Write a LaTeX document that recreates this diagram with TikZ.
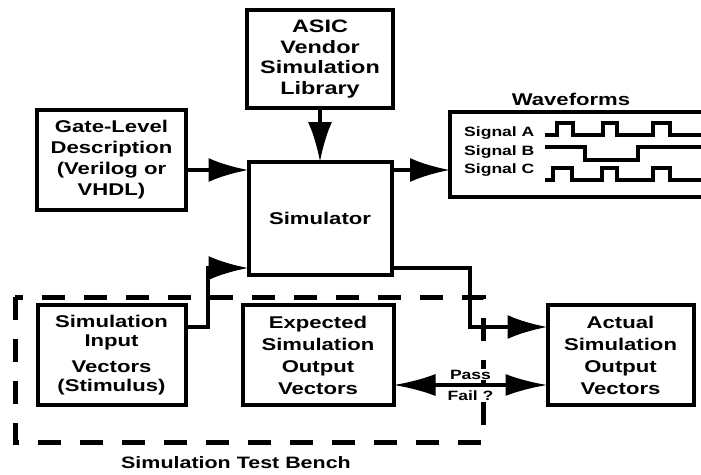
\documentclass[tikz,border=0pt]{standalone}
\usepackage{fontspec}
\setmainfont{Liberation Sans}[FakeStretch=1.3]
\usetikzlibrary{arrows.meta,positioning}

\begin{document}
\begin{tikzpicture}[x=1pt,y=-1pt,
  borde/.style={line width=4pt},
  caja/.style={draw,borde,minimum width=148pt,minimum height=100pt,outer sep=0pt,
               align=center,inner sep=2pt,font=\bfseries\fontsize{17}{21}\selectfont},
  flecha/.style={-{Latex[length=40pt,width=24pt]},line width=4pt},
  doble/.style={{Latex[length=42pt,width=22pt]}-{Latex[length=42pt,width=22pt]},line width=3.5pt},
  banco/.style={line width=5pt,dash pattern=on 23pt off 19pt},
  senal/.style={line width=3.5pt,line join=miter},
  rotulo/.style={font=\bfseries\fontsize{13.5}{15}\selectfont,inner sep=1pt}
]
\useasboundingbox (0,0) rectangle (701,474);

% banco de pruebas
\draw[banco] (15,297) rectangle (483,442);
\node[font=\bfseries\fontsize{16.5}{18}\selectfont] (bench) at (236,463) {Simulation Test Bench};

% bloques
\node[caja,minimum width=146pt,minimum height=98pt,
      font=\bfseries\fontsize{18}{20.5}\selectfont] (asic) at (320,59) {ASIC\\Vendor\\Simulation\\Library};
\node[caja,minimum width=143pt,minimum height=113pt,below=54pt of asic] (sim) {Simulator};
\node[caja,minimum width=149pt] (gate) at (111.5,160) {Gate-Level\\Description\\(Verilog or\\VHDL)};
\node[caja,below=95pt of gate,font=\bfseries\fontsize{17}{19.5}\selectfont] (input) {Simulation\\Input\\[6pt]Vectors\\(Stimulus)};
\node[caja,minimum width=151pt,right=57pt of input,font=\bfseries\fontsize{17}{22}\selectfont] (expected) {Expected\\Simulation\\Output\\Vectors};
\node[caja,minimum width=146pt,right=154pt of expected,font=\bfseries\fontsize{17}{22}\selectfont] (actual) {Actual\\Simulation\\Output\\Vectors};

% formas de onda
\node[minimum width=251pt,minimum height=85pt,outer sep=0pt] (wave) at (575.5,154.5) {};
\draw[borde] (wave.north east) -| (wave.south west) -- (wave.south east);
\node[font=\bfseries\fontsize{17}{18}\selectfont] (wavetitle) at (571,99) {Waveforms};
\node[rotulo,anchor=west] (siga) at (463,133) {Signal A};
\node[rotulo,anchor=west] (sigb) at (463,152) {Signal B};
\node[rotulo,anchor=west] (sigc) at (463,170) {Signal C};
\draw[senal] (545,135) -- (557,135) -- (557,123) -- (573,123) -- (573,135) -- (603,135) -- (603,123)
  -- (617,123) -- (617,135) -- (653,135) -- (653,123) -- (670,123) -- (670,135) -- (701,135);
\draw[senal] (545,147) -- (585,147) -- (585,160) -- (638,160) -- (638,147) -- (701,147);
\draw[senal] (545,180) -- (553,180) -- (553,168) -- (572,168) -- (572,180) -- (602,180) -- (602,168)
  -- (617,168) -- (617,180) -- (653,180) -- (653,168) -- (670,168) -- (670,180) -- (701,180);

% conexiones
\draw[flecha] (asic) -- (sim);
\draw[flecha] ([yshift=-10pt]gate.east) -- ([yshift=-10pt]gate.east -| sim.west);
\draw[flecha] ([yshift=-15.5pt]wave.west -| sim.east) -- ([yshift=-15.5pt]wave.west);
\coordinate (entrada) at (208,268);
\draw[flecha] ([yshift=28pt]input.east) -| (entrada) -- (entrada -| sim.west);
\coordinate (salida) at (470,268);
\draw[flecha] (salida -| sim.east) -- (salida) |- ([yshift=28pt]actual.west);
\draw[doble] ([yshift=-30pt]expected.east) -- ([yshift=-30pt]actual.west)
  node[midway,above=3pt,rotulo,fill=white] (pass) {Pass}
  node[midway,below=3pt,rotulo,fill=white] (fail) {Fail ?};
\end{tikzpicture}
\end{document}
